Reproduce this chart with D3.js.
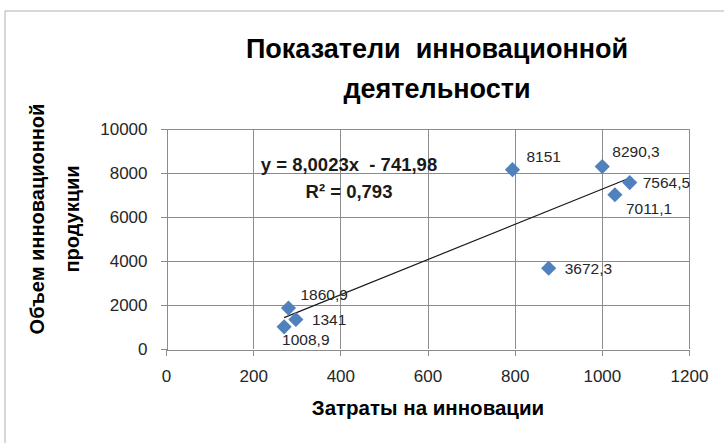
<!DOCTYPE html>
<html>
<head>
<meta charset="utf-8">
<script src="https://cdn.jsdelivr.net/npm/d3@7"></script>
<style>
  html, body { margin: 0; padding: 0; background: #fff; }
  svg { display: block; }
  text { font-family: "Liberation Sans", Arial, sans-serif; }
</style>
</head>
<body>
<script>
// ---- data ----
const titleLines = ["Показатели  инновационной", "деятельности"];
const xTitle = "Затраты на инновации";
const yTitleLines = ["Объем инновационной", "продукции"];
const costs = [271, 281, 298, 795, 1001, 1064, 1030, 878];
const outputs = [1008.9, 1860.9, 1341, 8151, 8290.3, 7564.5, 7011.1, 3672.3];
const xTicks = [0, 200, 400, 600, 800, 1000, 1200];
const yTicks = [0, 2000, 4000, 6000, 8000, 10000];
const trendSlope = [8.0023];
const trendIntercept = [-741.98];
const trendR2 = [0.793];

// ---- layout (label offsets in px from marker centre) ----
const labelOffsets = [[-2, 13], [12, -13], [16, 0], [14, -13], [10, -15], [13, 0], [11, 14], [16, 0]];

const W = 724, H = 443;
const svg = d3.select("body").append("svg").attr("width", W).attr("height", H);

// frame
svg.append("path").attr("d", `M5,${H} L5,11 L${W},11`)
  .attr("fill", "none").attr("stroke", "#b0b0b0").attr("stroke-width", 1);

const x = d3.scaleLinear().domain([0, 1200]).range([166, 689]);
const y = d3.scaleLinear().domain([0, 10000]).range([349, 129]);
const gridColor = "#8c8c8c";

// gridlines
const g = svg.append("g").attr("shape-rendering", "crispEdges");
g.selectAll("line.vg").data(xTicks.slice(1)).join("line")
  .attr("x1", d => Math.round(x(d)) + 0.5).attr("x2", d => Math.round(x(d)) + 0.5)
  .attr("y1", y(10000)).attr("y2", y(0))
  .attr("stroke", gridColor);
g.selectAll("line.hg").data(yTicks.slice(1)).join("line")
  .attr("x1", x(0)).attr("x2", x(1200))
  .attr("y1", d => Math.round(y(d)) + 0.5).attr("y2", d => Math.round(y(d)) + 0.5)
  .attr("stroke", gridColor);

// axes
const xAxis = d3.axisBottom(x).tickValues(xTicks).tickSize(6).tickPadding(14).tickFormat(d3.format("d"));
const yAxis = d3.axisLeft(y).tickValues(yTicks).tickSize(6).tickPadding(13).tickFormat(d3.format("d"));
const gx = svg.append("g").attr("transform", `translate(0,${Math.round(y(0)) + 0.5})`).call(xAxis);
const gy = svg.append("g").attr("transform", `translate(${Math.round(x(0)) + 0.5},0)`).call(yAxis);
[gx, gy].forEach(a => {
  a.select(".domain").attr("stroke", gridColor).attr("shape-rendering", "crispEdges");
  a.selectAll(".tick line").attr("stroke", gridColor).attr("shape-rendering", "crispEdges");
  a.selectAll(".tick text").attr("fill", "#262626").style("font-size", "17px")
    .style("font-family", "'Liberation Sans', Arial, sans-serif");
});
gx.selectAll(".tick text").attr("dy", "0.71em");

// trendline
const xMin = d3.min(costs), xMax = d3.max(costs);
const trend = [xMin, xMax].map(v => [v, trendSlope[0] * v + trendIntercept[0]]);
svg.append("path")
  .attr("d", d3.line().x(d => x(d[0])).y(d => y(d[1]))(trend))
  .attr("stroke", "#1a1a1a").attr("stroke-width", 1.2).attr("fill", "none");

// markers
const pts = costs.map((c, i) => ({ x: c, y: outputs[i], off: labelOffsets[i] }));
const diamond = d3.symbol().type(d3.symbolSquare).size(115);
svg.selectAll("path.pt").data(pts).join("path")
  .attr("d", diamond)
  .attr("transform", d => `translate(${x(d.x)},${y(d.y)}) rotate(45)`)
  .attr("fill", "#4f81bd");

// data labels
const fmt = v => String(v).replace(".", ",");
svg.selectAll("text.lbl").data(pts).join("text")
  .attr("x", d => x(d.x) + d.off[0])
  .attr("y", d => y(d.y) + d.off[1])
  .attr("dy", "0.35em")
  .style("font-size", "15.5px")
  .attr("fill", "#262626")
  .text(d => fmt(d.y));

// equation
const eq1 = `y = ${fmt(trendSlope[0])}x  - ${fmt(-trendIntercept[0])}`;
const eq2 = `R² = ${fmt(trendR2[0])}`;
svg.append("text").attr("x", 349).attr("y", 165).attr("dy", "0.35em")
  .attr("text-anchor", "middle").style("font-size", "18.5px").style("font-weight", "bold")
  .style("white-space", "pre").attr("fill", "#1a1a1a").text(eq1);
svg.append("text").attr("x", 349).attr("y", 192).attr("dy", "0.35em")
  .attr("text-anchor", "middle").style("font-size", "18.5px").style("font-weight", "bold")
  .attr("fill", "#1a1a1a").text(eq2);

// title
svg.selectAll("text.title").data(titleLines).join("text")
  .attr("x", 437).attr("y", (d, i) => 58 + i * 40)
  .attr("text-anchor", "middle").style("font-size", "27px").style("font-weight", "bold")
  .style("white-space", "pre").attr("fill", "#000").text(d => d);

// x title
svg.append("text").attr("x", 428).attr("y", 408).attr("dy", "0.35em")
  .attr("text-anchor", "middle").style("font-size", "20.5px").style("font-weight", "bold")
  .attr("fill", "#000").text(xTitle);

// y title
svg.selectAll("text.ytitle").data(yTitleLines).join("text")
  .attr("transform", (d, i) => `translate(${37 + i * 35},219) rotate(-90)`)
  .attr("dy", "0.35em")
  .attr("text-anchor", "middle").style("font-size", "20px").style("font-weight", "bold")
  .attr("fill", "#000").text(d => d);
</script>
</body>
</html>
